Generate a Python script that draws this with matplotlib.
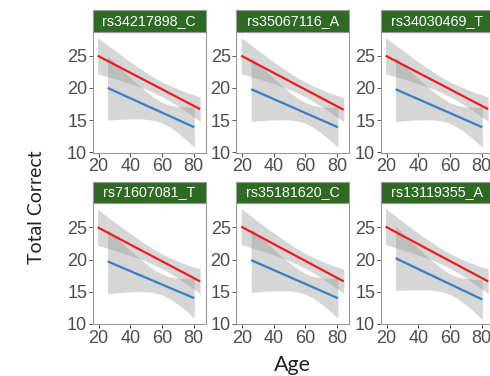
import numpy as np
import matplotlib
matplotlib.use("Agg")
import matplotlib.pyplot as plt

plt.rcParams["font.family"] = ["Liberation Sans", "DejaVu Sans"]

# facet labels, row by row
panels = ["rs34217898_C", "rs35067116_A", "rs34030469_T",
          "rs71607081_T", "rs35181620_C", "rs13119355_A"]

# fitted line ends (Age -> Total Correct)
red_x = [19.4, 84.2]
blue_x = [25.7, 80.5]
red_start = [25.0, 25.0, 25.0, 25.0, 25.1, 25.1]
red_end = [16.7, 16.6, 16.7, 16.6, 16.6, 16.6]
blue_start = [20.0, 19.8, 19.8, 19.7, 19.9, 20.2]
blue_end = [13.9, 13.9, 13.9, 14.0, 14.0, 13.8]

# confidence band half widths
red_band_x = [19.4, 25, 30, 35, 40, 45, 50, 55, 60, 65, 70, 75, 80, 84.2]
red_half = [2.8, 2.48, 2.21, 1.95, 1.71, 1.49, 1.31, 1.19, 1.15, 1.19, 1.31, 1.48, 1.70, 1.9]
blue_band_x = [25.7, 30, 35, 40, 45, 50, 55, 60, 65, 70, 75, 80.5]
blue_half = [5.0, 4.45, 3.83, 3.23, 2.66, 2.16, 1.78, 1.6, 1.7, 2.02, 2.49, 3.1]

x_ticks = [20, 40, 60, 80]
y_ticks = [10, 15, 20, 25]

W, H = 490, 376
fig = plt.figure(figsize=(W / 100, H / 100), dpi=100)

col_left = [92.7, 236.3, 380.7]
row_top = [31.7, 203.3]
pw, ph = 113, 121
strip_h = 21.7

title_font = "Lato"
border = "#9a9a9a"

for i, name in enumerate(panels):
    r, c = divmod(i, 3)
    left = col_left[c]
    top = row_top[r]
    ax = fig.add_axes([left / W, 1 - (top + ph) / H, pw / W, ph / H])

    bx = np.array(red_band_x)
    line = np.interp(bx, red_x, [red_start[i], red_end[i]])
    ax.fill_between(bx, line - np.array(red_half), line + np.array(red_half),
                    color="#999999", alpha=0.4, linewidth=0)
    bx = np.array(blue_band_x)
    line = np.interp(bx, blue_x, [blue_start[i], blue_end[i]])
    ax.fill_between(bx, line - np.array(blue_half), line + np.array(blue_half),
                    color="#999999", alpha=0.4, linewidth=0)

    ax.plot(red_x, [red_start[i], red_end[i]], color="#EE1C1C", lw=1.6,
            solid_capstyle="butt")
    ax.plot(blue_x, [blue_start[i], blue_end[i]], color="#3A7DC0", lw=1.6,
            solid_capstyle="butt")

    ax.set_xlim(16.3, 87.7)
    ax.set_ylim(9.95, 28.72)
    ax.set_xticks(x_ticks)
    ax.set_yticks(y_ticks)
    ax.tick_params(length=3, width=0.7, color="#555555", labelcolor="#4D4D4D",
                   labelsize=13, pad=1)
    for s in ax.spines.values():
        s.set_color(border)
        s.set_linewidth(0.8)

    sx = fig.add_axes([left / W, 1 - top / H, pw / W, strip_h / H])
    sx.set_facecolor("#2E6A24")
    sx.set_xticks([])
    sx.set_yticks([])
    for s in sx.spines.values():
        s.set_color(border)
        s.set_linewidth(0.8)
    sx.text(0.5, 0.5, name, color="white", fontsize=10.3,
            ha="center", va="center", transform=sx.transAxes)

fig.text(292.5 / W, 1 - 365 / H, "Age", fontsize=15.5, family=title_font,
         color="#222222", ha="center", va="center")
fig.text(36 / W, 1 - 207 / H, "Total Correct", fontsize=14, family=title_font,
         color="#222222", ha="center", va="center", rotation=90)

plt.savefig("out.png", dpi=100)
plt.close()
